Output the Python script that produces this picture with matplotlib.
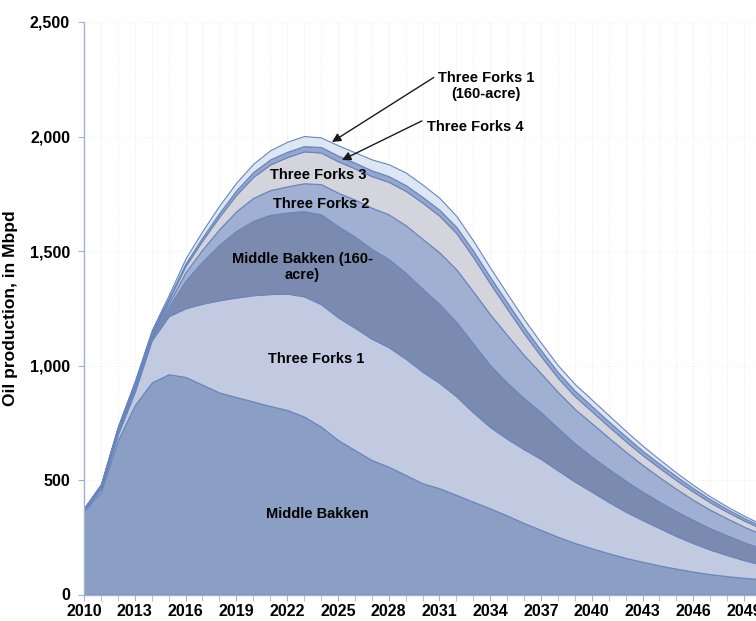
import numpy as np
import matplotlib
matplotlib.use("Agg")
import matplotlib.pyplot as plt
from matplotlib.ticker import FuncFormatter, MultipleLocator

plt.rcParams['font.family'] = ['Liberation Sans', 'DejaVu Sans']
plt.rcParams['font.weight'] = 'bold'

years = np.arange(2010, 2051)

# oil production by formation, Mbpd (stacked, bottom to top)
middle_bakken = [365, 449, 675, 827, 926, 962, 950, 916, 882, 862,
                 843, 823, 806, 777, 733, 675, 631, 587, 558, 522,
                 486, 464, 435, 405, 376, 345, 312, 282, 252, 225,
                 202, 180, 160, 143, 127, 113, 100, 89, 80, 73, 67]
three_forks_1 = [5, 13, 25, 58, 184, 253, 300, 354, 403, 435,
                 464, 489, 508, 525, 535, 536, 534, 530, 522, 508,
                 487, 460, 430, 390, 355, 335, 322, 310, 290, 268,
                 247, 224, 202, 182, 163, 142, 124, 107, 92, 77, 64]
middle_bakken_160 = [2, 8, 13, 18, 15, 40, 120, 185, 243, 291,
                     325, 346, 354, 372, 392, 398, 398, 392, 385, 375,
                     362, 345, 325, 300, 270, 245, 223, 204, 185, 167,
                     153, 144, 135, 124, 115, 108, 101, 93, 86, 78, 71]
three_forks_2 = [2, 4, 7, 9, 10, 17, 38, 52, 68, 86,
                 100, 108, 114, 122, 132, 146, 162, 180, 195, 208,
                 218, 225, 230, 228, 222, 208, 188, 170, 157, 150,
                 146, 137, 127, 117, 107, 98, 88, 81, 74, 68, 62]
three_forks_3 = [1, 3, 6, 9, 7, 14, 27, 40, 55, 72,
                 92, 112, 128, 139, 138, 137, 136, 138, 142, 150,
                 158, 160, 158, 150, 135, 115, 95, 75, 62, 56,
                 52, 49, 46, 43, 41, 38, 36, 32, 29, 27, 25]
three_forks_4 = [1, 2, 3, 4, 4, 7, 11, 13, 16, 19,
                 21, 22, 23, 23, 24, 25, 25, 25, 25, 25,
                 25, 26, 27, 28, 28, 28, 27, 26, 25, 24,
                 23, 22, 21, 19, 18, 17, 15, 14, 12, 11, 10]
three_forks_1_160 = [1, 4, 5, 7, 8, 14, 22, 28, 32, 34,
                     36, 40, 44, 44, 42, 45, 45, 48, 52, 55,
                     54, 52, 48, 44, 41, 38, 35, 32, 30, 29,
                     28, 27, 24, 22, 19, 16, 14, 12, 11, 10, 9]

colors = ['#8b9ec4', '#c1cae0', '#7b8bb0', '#9fb0d2', '#d3d4dc', '#95a7cf', '#dce7f3']

fig = plt.figure(figsize=(7.56, 6.21), dpi=100)
ax = fig.add_axes([84 / 756, 26.5 / 621, 677 / 756, 572.5 / 621])

ax.stackplot(years, middle_bakken, three_forks_1, middle_bakken_160, three_forks_2,
             three_forks_3, three_forks_4, three_forks_1_160,
             colors=colors, edgecolor='#6a85bd', linewidth=0.8, zorder=2)

ax.set_xlim(2010, 2050)
ax.set_ylim(0, 2500)
ax.xaxis.set_major_locator(MultipleLocator(3))
ax.xaxis.set_minor_locator(MultipleLocator(1))
ax.yaxis.set_major_locator(MultipleLocator(500))
ax.yaxis.set_major_formatter(FuncFormatter(lambda v, p: f"{int(v):,}"))

ax.grid(True, which='both', axis='x', color='#e7eaf1', linestyle=':', linewidth=0.7, zorder=0)
ax.grid(True, which='major', axis='y', color='#eceef3', linestyle=':', linewidth=0.7, zorder=0)

for s in ['top', 'right']:
    ax.spines[s].set_visible(False)
for s in ['left', 'bottom']:
    ax.spines[s].set_color('#a3b1cf')
    ax.spines[s].set_linewidth(1.0)
ax.tick_params(axis='both', which='both', color='#a3b1cf', direction='out')
ax.tick_params(axis='x', which='major', length=4, labelsize=11.5, pad=3)
ax.tick_params(axis='x', which='minor', length=4)
ax.tick_params(axis='y', length=4, labelsize=11.5, pad=6)
for lab in ax.get_xticklabels() + ax.get_yticklabels():
    lab.set_fontweight('bold')

ax.set_ylabel('Oil production, in Mbpd', fontsize=12.5, fontweight='bold')
ax.yaxis.set_label_coords(-66 / 677, 0.5)

fs = 10.5
ax.text(2023.76, 351, 'Middle Bakken', ha='center', va='center', fontsize=fs, zorder=5)
ax.text(2023.7, 1028, 'Three Forks 1', ha='center', va='center', fontsize=fs, zorder=5)
ax.text(2022.9, 1430, 'Middle Bakken (160-\nacre)', ha='center', va='center',
        fontsize=fs, linespacing=1.15, zorder=5)
ax.text(2024.0, 1705, 'Three Forks 2', ha='center', va='center', fontsize=fs, zorder=5)
ax.text(2023.82, 1832, 'Three Forks 3', ha='center', va='center', fontsize=fs, zorder=5)
ax.text(2033.75, 2220, 'Three Forks 1\n(160-acre)', ha='center', va='center',
        fontsize=fs, linespacing=1.15, zorder=5)
ax.text(2033.1, 2041, 'Three Forks 4', ha='center', va='center', fontsize=fs, zorder=5)

arrow = dict(arrowstyle='-|>', color='#1a1a1a', lw=1.0, mutation_scale=13, shrinkA=0, shrinkB=0)
ax.annotate('', xy=(2024.65, 1976), xytext=(2030.67, 2258), arrowprops=arrow, zorder=6)
ax.annotate('', xy=(2025.24, 1897), xytext=(2029.96, 2068), arrowprops=arrow, zorder=6)

fig.savefig('out.png', dpi=100)
